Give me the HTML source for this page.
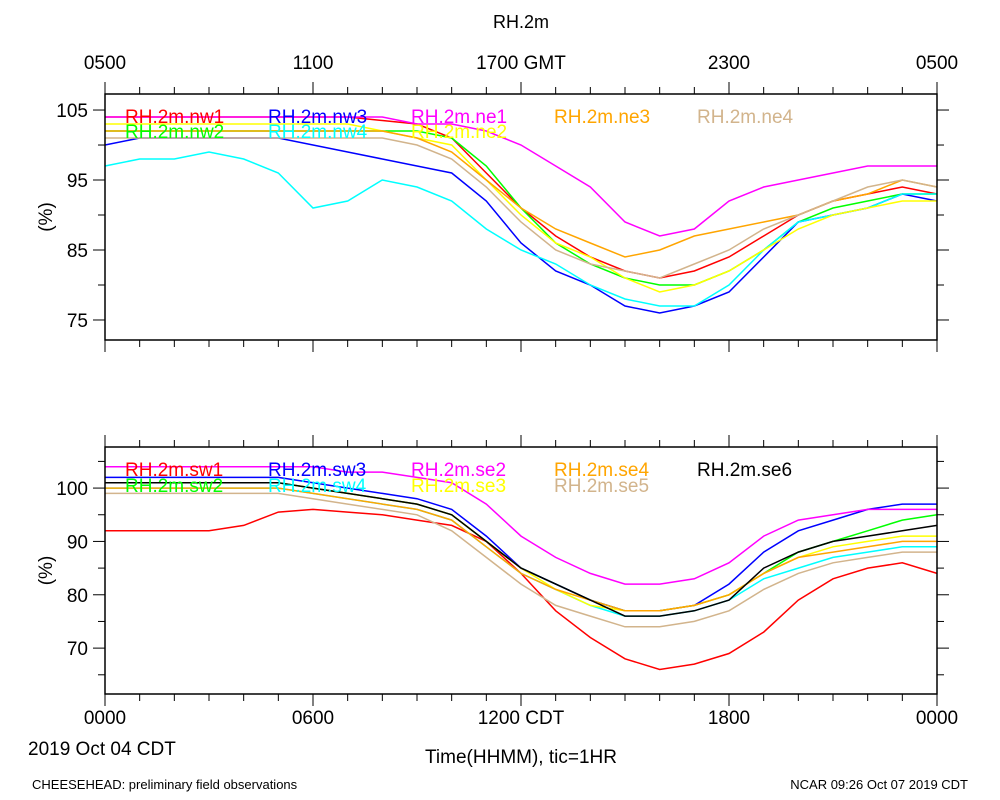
<!DOCTYPE html>
<html><head><meta charset="utf-8"><style>
body{margin:0;background:#fff}
svg{display:block;font-family:"Liberation Sans",sans-serif}
</style></head><body>
<svg id="c" width="1000" height="800" xmlns="http://www.w3.org/2000/svg"></svg>
<script>
const hours=[0,1,2,3,4,5,6,7,8,9,10,11,12,13,14,15,16,17,18,19,20,21,22,23,24];
const topNames=["RH.2m.nw1","RH.2m.nw2","RH.2m.nw3","RH.2m.nw4","RH.2m.ne1","RH.2m.ne2","RH.2m.ne3","RH.2m.ne4"];
const topColors=["#ff0000","#00ff00","#0000ff","#00ffff","#ff00ff","#ffff00","#ffa500","#d2b48c"];
const nw1=[104,104,104,104,104,104,104,104,103.5,103,101,96,91,87,84,82,81,82,84,87,90,92,93,94,93];
const nw2=[102,102,102,102,102,102,102,102,102,102,101,97,91,86,83,81,80,80,82,85,89,91,92,93,93];
const nw3=[100,101,101,101,101,101,100,99,98,97,96,92,86,82,80,77,76,77,79,84,89,90,91,93,92];
const nw4=[97,98,98,99,98,96,91,92,95,94,92,88,85,83,80,78,77,77,80,85,89,90,91,93,93];
const ne1=[104,104,104,104,104,104,104,104,104,103,103,102,100,97,94,89,87,88,92,94,95,96,97,97,97];
const ne2=[103,103,103,103,103,103,103,103,102,101,100,95,90,86,84,81,79,80,82,85,88,90,91,92,92];
const ne3=[102,102,102,102,102,102,102,102,102,101,99,95,91,88,86,84,85,87,88,89,90,92,93,95,94];
const ne4=[101,101,101,101,101,101,101,101,101,100,98,94,89,85,83,82,81,83,85,88,90,92,94,95,94];
const topSeries=[nw1,nw2,nw3,nw4,ne1,ne2,ne3,ne4];
const botNames=["RH.2m.sw1","RH.2m.sw2","RH.2m.sw3","RH.2m.sw4","RH.2m.se2","RH.2m.se3","RH.2m.se4","RH.2m.se5","RH.2m.se6"];
const botColors=["#ff0000","#00ff00","#0000ff","#00ffff","#ff00ff","#ffff00","#ffa500","#d2b48c","#000000"];
const sw1=[92,92,92,92,93,95.5,96,95.5,95,94,93,90,84,77,72,68,66,67,69,73,79,83,85,86,84];
const sw2=[101,101,101,101,101,101,100,99,98,97,95,90,85,82,79,77,77,78,80,84,88,90,92,94,95];
const sw3=[102,102,102,102,102,102,101,100,99,98,96,91,85,82,79,77,77,78,82,88,92,94,96,97,97];
const sw4=[100,100,100,100,100,100,99,98,97,96,94,89,84,81,78,76,76,77,79,83,85,87,88,89,89];
const se2=[104,104,104,104,104,104,104,103,103,102,101,97,91,87,84,82,82,83,86,91,94,95,96,96,96];
const se3=[101,101,101,101,101,101,100,99,98,97,95,90,85,81,78,77,77,78,80,84,87,89,90,91,91];
const se4=[100,100,100,100,100,100,99,98,97,96,94,89,84,81,79,77,77,78,80,84,87,88,89,90,90];
const se5=[99,99,99,99,99,99,98,97,96,95,92,87,82,78,76,74,74,75,77,81,84,86,87,88,88];
const se6=[101,101,101,101,101,101,100,99,98,97,95,90,85,82,79,76,76,77,79,85,88,90,91,92,93];
const botSeries=[sw1,sw2,sw3,sw4,se2,se3,se4,se5,se6];
const topTicks=["0500","1100","1700 GMT","2300","0500"];
const botTicks=["0000","0600","1200 CDT","1800","0000"];
const topY=[75,85,95,105];
const botY=[70,80,90,100];

const svg=document.getElementById('c');
const NS="http://www.w3.org/2000/svg";
const X0=105,X1=937;
const x=h=>X0+(X1-X0)*h/24;
const P1={top:94,bot:340,vmin:72.14,vmax:107.29};
const P2={top:447,bot:694,vmin:61.4,vmax:107.7};
function yOf(p,v){return p.bot-(v-p.vmin)/(p.vmax-p.vmin)*(p.bot-p.top);}
function el(t,a,par){const e=document.createElementNS(NS,t);for(const k in a)e.setAttribute(k,a[k]);(par||svg).appendChild(e);return e;}
function txt(s,xx,yy,size,anchor,fill){const e=el('text',{x:xx,y:yy,'font-size':size,'text-anchor':anchor||'start',fill:fill||'#000'});e.textContent=s;return e;}

function panel(p,series,colors,names,yticks,pname){
  const g=el('g',{});
  
  
  series.forEach((s,i)=>{
    const d=s.map((v,j)=>(j?'L':'M')+x(hours[j]).toFixed(1)+','+yOf(p,v).toFixed(1)).join('');
    const path=el('path',{d:d,fill:'none',stroke:colors[i],'stroke-width':1.5},g);
    
    
  });
  const fr=el('rect',{x:X0,y:p.top,width:X1-X0,height:p.bot-p.top,fill:'none',stroke:'#000','stroke-width':1.5},g);
  
  
  for(let h=0;h<=24;h++){
    const len=h%6===0?12:7;
    el('line',{x1:x(h),x2:x(h),y1:p.top,y2:p.top-len,stroke:'#000'},g);
    el('line',{x1:x(h),x2:x(h),y1:p.bot,y2:p.bot+len,stroke:'#000'},g);
  }
  for(let v=Math.ceil(p.vmin/5)*5;v<=p.vmax;v+=5){
    const yy=yOf(p,v);const len=yticks.includes(v)?12:7;
    el('line',{x1:X0,x2:X0-len,y1:yy,y2:yy,stroke:'#000'},g);
    el('line',{x1:X1,x2:X1+len,y1:yy,y2:yy,stroke:'#000'},g);
  }
  yticks.forEach(v=>{
    const t=txt(String(v),88,yOf(p,v)+7,19,'end');
    
    
  });
  const yl=txt('(%)',0,0,19,'middle');
  yl.setAttribute('transform','translate(52,'+((p.top+p.bot)/2)+') rotate(-90)');
  
  
}
panel(P1,topSeries,topColors,topNames,topY,'top-panel');
panel(P2,botSeries,botColors,botNames,botY,'bottom-panel');

const topLeg=[[125,123],[125,138],[268,123],[268,138],[411,123],[411,138],[554,123],[697,123]];
topNames.forEach((n,i)=>{const t=txt(n,topLeg[i][0],topLeg[i][1],19,'start',topColors[i]);
  
  });
const botLeg=[[125,476],[125,492],[268,476],[268,492],[411,476],[411,492],[554,476],[554,492],[697,476]];
botNames.forEach((n,i)=>{const t=txt(n,botLeg[i][0],botLeg[i][1],19,'start',botColors[i]);
  
  });

topTicks.forEach((s,i)=>{const t=txt(s,x(i*6),69,19,'middle');
  
  });
botTicks.forEach((s,i)=>{const t=txt(s,x(i*6),724,19,'middle');
  
  });
let t;
t=txt('RH.2m',521,28,18,'middle');
t=txt('2019 Oct 04 CDT',28,755,19,'start');
t=txt('Time(HHMM), tic=1HR',521,763,19,'middle');
t=txt('CHEESEHEAD: preliminary field observations',32,789,13,'start');
t=txt('NCAR 09:26 Oct 07 2019 CDT',968,789,13,'end');
</script>
</body></html>
